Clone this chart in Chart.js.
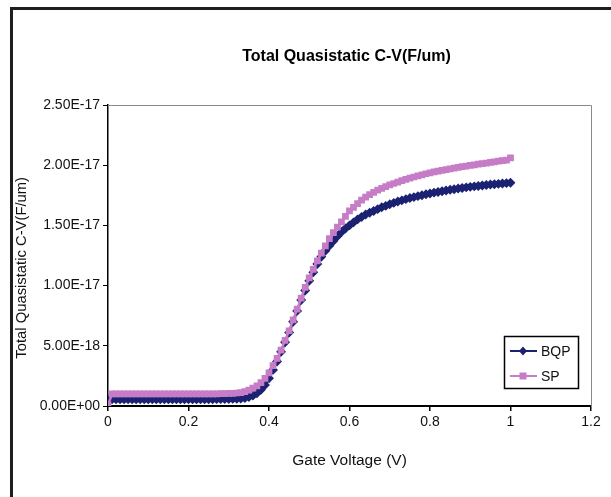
<!DOCTYPE html>
<html>
<head>
<meta charset="utf-8">
<script src="https://cdn.jsdelivr.net/npm/chart.js@4/dist/chart.umd.min.js"></script>
<style>
html,body{margin:0;padding:0;background:#fff;}
canvas{display:block;}
</style>
</head>
<body>
<canvas id="c" width="611" height="497"></canvas>
<script>
const chartTitle = "Total Quasistatic C-V(F/um)";
const xTitle = "Gate Voltage (V)";
const yTitle = "Total Quasistatic C-V(F/um)";
const seriesNames = ["BQP", "SP"];
const unit = 1e-18;

const volts = [0.00,0.01,0.02,0.03,0.04,0.05,0.06,0.07,0.08,0.09,
0.10,0.11,0.12,0.13,0.14,0.15,0.16,0.17,0.18,0.19,
0.20,0.21,0.22,0.23,0.24,0.25,0.26,0.27,0.28,0.29,
0.30,0.31,0.32,0.33,0.34,0.35,0.36,0.37,0.38,0.39,
0.40,0.41,0.42,0.43,0.44,0.45,0.46,0.47,0.48,0.49,
0.50,0.51,0.52,0.53,0.54,0.55,0.56,0.57,0.58,0.59,
0.60,0.61,0.62,0.63,0.64,0.65,0.66,0.67,0.68,0.69,
0.70,0.71,0.72,0.73,0.74,0.75,0.76,0.77,0.78,0.79,
0.80,0.81,0.82,0.83,0.84,0.85,0.86,0.87,0.88,0.89,
0.90,0.91,0.92,0.93,0.94,0.95,0.96,0.97,0.98,0.99,1.00];

// values in units of 1e-18 F/um
const bqp = [0.55,0.55,0.56,0.55,0.55,0.56,0.55,0.55,0.56,0.55,
0.55,0.56,0.55,0.55,0.56,0.55,0.55,0.56,0.55,0.55,
0.56,0.55,0.55,0.56,0.55,0.56,0.56,0.57,0.57,0.58,
0.58,0.59,0.60,0.62,0.66,0.74,0.86,1.05,1.35,1.75,
2.30,3.00,3.70,4.50,5.30,6.10,7.00,7.90,8.80,9.60,
10.40,11.10,11.80,12.40,12.90,13.30,13.70,14.10,14.45,14.75,
15.00,15.25,15.50,15.70,15.90,16.05,16.20,16.35,16.50,16.62,
16.75,16.87,16.98,17.08,17.18,17.27,17.35,17.43,17.51,17.58,
17.65,17.72,17.78,17.84,17.90,17.96,18.01,18.06,18.11,18.16,
18.20,18.24,18.28,18.32,18.36,18.39,18.42,18.45,18.48,18.51,18.55];

const sp = [0.10,1.00,1.00,1.01,1.00,1.00,1.01,1.00,1.00,1.01,
1.00,1.00,1.01,1.00,1.00,1.01,1.00,1.00,1.01,1.00,
1.00,1.01,1.00,1.00,1.01,1.00,1.01,1.01,1.02,1.03,
1.04,1.05,1.08,1.12,1.20,1.32,1.48,1.68,1.95,2.30,
2.75,3.35,3.95,4.65,5.45,6.25,7.15,8.05,8.95,9.85,
10.65,11.35,12.05,12.70,13.30,13.90,14.40,14.85,15.30,15.75,
16.20,16.50,16.80,17.10,17.35,17.55,17.75,17.92,18.07,18.22,
18.36,18.48,18.60,18.71,18.82,18.92,19.02,19.11,19.20,19.29,
19.37,19.44,19.51,19.58,19.64,19.70,19.76,19.82,19.88,19.93,
19.98,20.03,20.08,20.13,20.18,20.23,20.28,20.33,20.38,20.43,20.60];

const FONT = "'Liberation Sans', Arial, sans-serif";

function fmtExp(v){
  let s = Number(v).toExponential(2).toUpperCase();
  return s.replace(/E([+-])(\d)$/, 'E$10$2');
}

const framePlugin = {
  id: 'frame',
  beforeDatasetsDraw(chart){
    const {ctx, chartArea:a} = chart;
    ctx.save();
    ctx.strokeStyle = '#8a8a8a';
    ctx.lineWidth = 1;
    ctx.beginPath();
    ctx.moveTo(a.left, a.top + 0.5);
    ctx.lineTo(a.right + 0.5, a.top + 0.5);
    ctx.lineTo(a.right + 0.5, a.bottom);
    ctx.stroke();
    ctx.restore();
  },
  afterDraw(chart){
    const ctx = chart.ctx;
    const a = chart.chartArea;
    ctx.save();
    // outer frame
    ctx.strokeStyle = '#1e1e1e';
    ctx.lineWidth = 3;
    ctx.beginPath();
    ctx.moveTo(11.5, 500);
    ctx.lineTo(11.5, 8.5);
    ctx.lineTo(615, 8.5);
    ctx.stroke();
    // title (centred over the plot area)
    ctx.fillStyle = '#000';
    ctx.font = "bold 16px " + FONT;
    ctx.textAlign = 'center';
    ctx.textBaseline = 'middle';
    ctx.fillText(chartTitle, (a.left + a.right) / 2 - 3, 57);
    // legend
    const bx = 504, by = 336, bw = 74, bh = 52;
    ctx.fillStyle = '#fff';
    ctx.fillRect(bx, by, bw, bh);
    ctx.strokeStyle = '#000';
    ctx.lineWidth = 1.5;
    ctx.strokeRect(bx + 0.5, by + 0.5, bw, bh);
    chart.data.datasets.forEach((ds, i) => {
      const y = by + 15 + i * 25;
      ctx.strokeStyle = ds.borderColor;
      ctx.lineWidth = 2;
      ctx.beginPath();
      ctx.moveTo(bx + 6, y);
      ctx.lineTo(bx + 33, y);
      ctx.stroke();
      ctx.fillStyle = ds.pointBackgroundColor;
      ctx.beginPath();
      const cx = bx + 19;
      if (ds.pointStyle === 'rectRot') {
        ctx.moveTo(cx, y - 4.5); ctx.lineTo(cx + 4, y); ctx.lineTo(cx, y + 4.5); ctx.lineTo(cx - 4, y);
        ctx.closePath(); ctx.fill();
      } else {
        ctx.fillRect(cx - 3.5, y - 3.5, 7, 7);
      }
      ctx.fillStyle = '#111';
      ctx.font = "14px " + FONT;
      ctx.textBaseline = 'middle';
      ctx.textAlign = 'left';
      ctx.fillText(ds.label, bx + 37, y + 1);
    });
    ctx.restore();
  }
};

new Chart(document.getElementById('c'), {
  type: 'scatter',
  data: {
    datasets: [
      {
        label: seriesNames[0],
        data: volts.map((v, i) => ({x: v, y: bqp[i] * unit})),
        showLine: true,
        borderColor: '#1c2272',
        backgroundColor: '#1c2272',
        pointBackgroundColor: '#1c2272',
        pointBorderColor: '#1c2272',
        pointStyle: 'rectRot',
        pointRadius: 3.2,
        borderWidth: 2.5,
        order: 1
      },
      {
        label: seriesNames[1],
        data: volts.map((v, i) => ({x: v, y: sp[i] * unit})),
        showLine: true,
        borderColor: '#c77cc7',
        backgroundColor: '#c77cc7',
        pointBackgroundColor: '#c77cc7',
        pointBorderColor: '#c77cc7',
        pointStyle: 'rect',
        pointRadius: 3,
        borderWidth: 2.5,
        order: 0
      }
    ]
  },
  options: {
    responsive: false,
    animation: false,
    layout: { padding: { left: 10, right: 20, top: 105, bottom: 20 } },
    plugins: {
      legend: { display: false },
      tooltip: { enabled: false },
      title: { display: false }
    },
    scales: {
      x: {
        type: 'linear',
        min: 0, max: 1.2,
        afterFit(s){ s.height = 71; },
        ticks: {
          stepSize: 0.2,
          color: '#111',
          font: { family: FONT, size: 14 },
          padding: 3,
          callback: v => String(Math.round(v * 10) / 10)
        },
        grid: { display: true, drawOnChartArea: false, drawTicks: true, tickLength: 5, color: '#000', lineWidth: 1.5 },
        border: { display: true, color: '#000', width: 2 },
        title: {
          display: true, text: xTitle, color: '#111',
          font: { family: FONT, size: 15.5 },
          padding: { top: 0, bottom: 6.7 }
        }
      },
      y: {
        min: 0, max: 2.5e-17,
        afterFit(s){ s.width = 98; },
        ticks: {
          stepSize: 5e-18,
          color: '#111',
          font: { family: FONT, size: 14 },
          padding: 3,
          callback: v => fmtExp(v)
        },
        grid: { display: true, drawOnChartArea: false, drawTicks: true, tickLength: 5, color: '#000', lineWidth: 1 },
        border: { display: true, color: '#000', width: 1.5 },
        title: {
          display: true, text: yTitle + "      ", color: '#111',
          font: { family: FONT, size: 14.8 },
          padding: { top: 3, bottom: 0 }
        }
      }
    }
  },
  plugins: [framePlugin]
});
</script>
</body>
</html>
